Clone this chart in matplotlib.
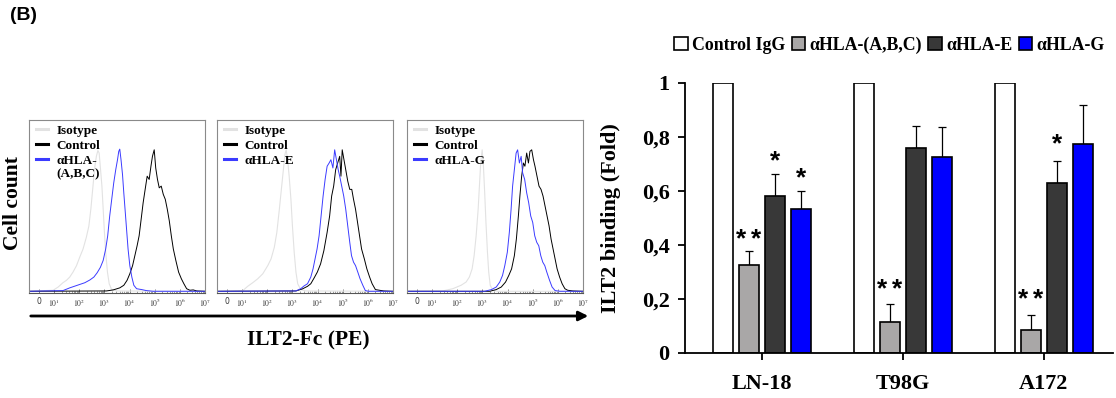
import matplotlib
matplotlib.use("Agg")
import matplotlib.pyplot as plt
from matplotlib.patches import FancyArrowPatch
from matplotlib.transforms import offset_copy
import numpy as np

plt.rcParams['mathtext.fontset'] = 'stix'
SERIF = 'Liberation Serif'

# ---------------- Flow cytometry histograms (x in decade units, y in % of frame) ----------------
# Panel 1: alpha HLA-(A,B,C)
p1_iso_x = [0, 0.96, 1.16, 1.35, 1.49, 1.62, 1.75, 1.89, 2.02, 2.15, 2.28, 2.38, 2.46, 2.52, 2.58, 2.63, 2.68, 2.74, 2.79, 2.84, 2.90, 2.95, 3.0, 3.05, 3.12, 3.19, 3.28, 3.48, 7]
p1_iso_y = [0, 0.6, 2.5, 5, 6.4, 8.3, 11.2, 15, 20, 24.7, 31.5, 38, 48, 57.5, 67, 74, 78.8, 82.2, 80.7, 72, 61.4, 48, 34.4, 22.8, 11.2, 4.4, 1.2, 0.2, 0]
p1_ctl_x = [0, 3.08, 3.35, 3.61, 3.77, 3.9, 4.01, 4.12, 4.21, 4.3, 4.38, 4.46, 4.54, 4.62, 4.7, 4.78, 4.85, 4.91, 4.98, 5.04, 5.11, 5.18, 5.26, 5.34, 5.42, 5.5, 5.58, 5.66, 5.74, 5.84, 5.95, 6.06, 6.16, 6.27, 6.4, 6.53, 6.67, 7]
p1_ctl_y = [0, 0.2, 0.8, 2, 3.5, 6.4, 10.2, 15, 20.8, 26.6, 32.4, 42, 51.7, 59.5, 67.2, 65.3, 73, 78.8, 82.6, 72, 65.3, 60.4, 61.4, 56.6, 53.7, 47.9, 41.1, 32.4, 24.7, 18, 11.2, 7.3, 4.4, 1.5, 0.6, 0.8, 0.2, 0]
p1_ab_x = [0, 1.35, 1.62, 1.82, 2.02, 2.22, 2.42, 2.58, 2.71, 2.84, 2.95, 3.05, 3.13, 3.21, 3.29, 3.37, 3.45, 3.52, 3.57, 3.61, 3.66, 3.72, 3.77, 3.82, 3.88, 3.94, 4.01, 4.09, 4.17, 4.28, 4.48, 4.67, 4.94, 7]
p1_ab_y = [0, 0.4, 2, 3, 4, 5, 6.6, 8.3, 10.8, 14, 18, 24.7, 32.4, 44, 53.7, 63.3, 71, 76.8, 81.7, 83, 76.8, 68, 57.5, 47.9, 36.3, 24.7, 15, 8.3, 3.5, 1.5, 1, 0.4, 0, 0]

# Panel 2: alpha HLA-E
p2_iso_x = [0, 1.03, 1.22, 1.42, 1.62, 1.82, 2.02, 2.15, 2.28, 2.38, 2.48, 2.56, 2.64, 2.7, 2.75, 2.81, 2.87, 2.94, 3.0, 3.07, 3.14, 3.21, 3.33, 3.53, 7]
p2_iso_y = [0, 0.4, 2.9, 5, 7.3, 10.2, 15, 18.9, 25.7, 34.4, 47.9, 59.5, 71, 79.7, 82.6, 76.8, 67.2, 53.7, 38.2, 22.8, 11.2, 4.4, 1, 0.2, 0]
p2_ctl_x = [0, 3.14, 3.4, 3.6, 3.73, 3.86, 3.99, 4.12, 4.25, 4.38, 4.48, 4.56, 4.64, 4.72, 4.8, 4.88, 4.93, 4.98, 5.05, 5.12, 5.2, 5.28, 5.36, 5.43, 5.51, 5.59, 5.67, 5.75, 5.86, 5.96, 6.07, 6.17, 6.3, 6.46, 6.63, 7]
p2_ctl_y = [0, 0.2, 1.4, 2.9, 4.4, 7.7, 11.2, 16, 23.7, 34.4, 44, 55.6, 61.4, 71, 74.9, 78.8, 67.2, 82.6, 76.8, 71, 64.3, 59.5, 59.5, 53.7, 47.9, 40.2, 32.4, 24.7, 18.9, 13.1, 8.3, 4.4, 1, 0.6, 0.2, 0]
p2_ab_x = [0, 3.14, 3.33, 3.46, 3.6, 3.73, 3.82, 3.9, 3.98, 4.06, 4.14, 4.22, 4.3, 4.38, 4.46, 4.53, 4.61, 4.68, 4.75, 4.82, 4.88, 4.96, 5.04, 5.12, 5.2, 5.28, 5.35, 5.43, 5.51, 5.6, 5.69, 5.8, 5.9, 6.03, 7]
p2_ab_y = [0, 0.2, 1.5, 3.1, 4.4, 8.3, 13.1, 18.9, 24.7, 32.4, 44, 55.6, 65.3, 73, 74.9, 76.8, 72, 82.6, 76.8, 71, 67.2, 61.4, 55.6, 47.9, 38.2, 28.6, 20.8, 17, 15, 11.2, 7.3, 3.5, 0.4, 0, 0]

# Panel 3: alpha HLA-G
p3_iso_x = [0, 1.42, 1.82, 2.15, 2.35, 2.48, 2.59, 2.67, 2.75, 2.83, 2.88, 2.93, 2.99, 3.04, 3.09, 3.14, 3.2, 3.25, 3.31, 3.41, 3.61, 7]
p3_iso_y = [0, 0.2, 1.5, 3.5, 5.4, 8.3, 13.1, 20.8, 32.4, 47.9, 61.4, 74.9, 82.6, 73, 57.5, 40.2, 22.8, 11.2, 3.5, 0.6, 0, 0]
p3_ctl_x = [0, 3.29, 3.55, 3.75, 3.92, 4.05, 4.16, 4.27, 4.35, 4.43, 4.49, 4.56, 4.63, 4.69, 4.76, 4.83, 4.89, 4.96, 5.03, 5.09, 5.17, 5.25, 5.33, 5.41, 5.49, 5.57, 5.65, 5.73, 5.81, 5.89, 5.97, 6.07, 6.17, 6.28, 6.39, 6.59, 7]
p3_ctl_y = [0, 0, 1, 2.5, 5.4, 9.3, 13.1, 20.8, 30.5, 44, 55.6, 67.2, 74.9, 73, 80.7, 74.9, 81.7, 82.6, 76.8, 73, 67.2, 61.4, 59.5, 55.6, 49.8, 44, 38.2, 30.5, 24.7, 18.9, 13.1, 8.3, 4.4, 1.5, 0.6, 0.2, 0]
p3_ab_x = [0, 3.09, 3.36, 3.55, 3.69, 3.8, 3.89, 3.99, 4.07, 4.14, 4.2, 4.27, 4.34, 4.4, 4.47, 4.54, 4.6, 4.68, 4.76, 4.84, 4.92, 5.0, 5.08, 5.16, 5.24, 5.32, 5.4, 5.48, 5.56, 5.67, 5.77, 5.89, 6.09, 7]
p3_ab_y = [0, 0, 1, 2.5, 5.4, 9.3, 15, 22.8, 34.4, 47.9, 61.4, 71, 80.7, 82.6, 74.9, 78.8, 69.1, 65.3, 57.5, 51.7, 44, 40.2, 32.4, 28.6, 26.6, 20.8, 17, 15, 11.2, 6.4, 2.5, 0.4, 0, 0]

hist_labels = ["Isotype", "Control"]
ab_labels = ["\u03b1HLA-", "\u03b1HLA-E", "\u03b1HLA-G"]
hist_tick_pos = [0.4, 1, 2, 3, 4, 5, 6, 7]
hist_tick_lab = ["0"] + ["$10^{%d}$" % k for k in range(1, 8)]

# ---------------- Bar chart ----------------
cell_lines = ["LN-18", "T98G", "A172"]
series_names = ["Control IgG", "\u03b1HLA-(A,B,C)", "\u03b1HLA-E", "\u03b1HLA-G"]
ctrl_vals = [1.0, 1.0, 1.0]
abc_vals = [0.325, 0.115, 0.086]
e_vals = [0.58, 0.758, 0.628]
g_vals = [0.535, 0.726, 0.774]
ctrl_err = [0, 0, 0]
abc_err = [0.052, 0.066, 0.054]
e_err = [0.084, 0.082, 0.083]
g_err = [0.066, 0.112, 0.143]
# (number of asterisks, series index, cell line index, height)
stars = [(2, 1, 0, 0.42), (1, 2, 0, 0.71), (1, 3, 0, 0.648),
         (2, 1, 1, 0.235), (2, 1, 2, 0.198), (1, 2, 2, 0.772)]
y_ticks = [0, 0.2, 0.4, 0.6, 0.8, 1.0]
y_tick_labels = ["0", "0,2", "0,4", "0,6", "0,8", "1"]

bar_colors = ["white", "#a9a7a7", "#383838", "#0000ff"]

W, H = 1116, 398
fig = plt.figure(figsize=(W / 100, H / 100), dpi=100)

def fx(px):
    return px / W

def fy(py):
    return 1 - py / H

panels = [
    (29, p1_iso_x, p1_iso_y, p1_ctl_x, p1_ctl_y, p1_ab_x, p1_ab_y, ab_labels[0]),
    (217, p2_iso_x, p2_iso_y, p2_ctl_x, p2_ctl_y, p2_ab_x, p2_ab_y, ab_labels[1]),
    (407, p3_iso_x, p3_iso_y, p3_ctl_x, p3_ctl_y, p3_ab_x, p3_ab_y, ab_labels[2]),
]
minor_pos = [k + np.log10(m) for k in range(1, 7) for m in range(2, 10)]
hist_axes = []
for i, (left, ix, iy, cx, cy, ax_, ay, lab) in enumerate(panels):
    ax = fig.add_axes([fx(left), fy(293), 176 / W, 173 / H])
    hist_axes.append(ax)
    l1, = ax.plot(ix, iy, color="#e2e2e2", lw=0.8, label=hist_labels[0])
    l2, = ax.plot(cx, cy, color="black", lw=0.7, label=hist_labels[1])
    l3, = ax.plot(ax_, ay, color="#3b3bff", lw=0.7, label=lab)
    ax.set_xlim(0, 7)
    ax.set_ylim(-1, 100)
    ax.set_yticks([])
    ax.set_xticks(hist_tick_pos)
    ax.set_xticklabels(hist_tick_lab)
    ax.set_xticks(minor_pos, minor=True)
    ax.tick_params(axis='x', which='major', direction='in', length=3, width=0.5,
                   color='#555555', labelsize=5.5, pad=3, labelcolor='#333333')
    ax.tick_params(axis='x', which='minor', direction='in', length=1.8, width=0.4, color='#555555')
    for s in ax.spines.values():
        s.set_color('#8a8a8a')
        s.set_linewidth(0.8)
    ax.spines['bottom'].set_color('#555555')
    leg = ax.legend(handles=[l1, l2, l3], loc='upper left', bbox_to_anchor=(0.0, 1.01),
                    frameon=False, handlelength=0.95, handletextpad=0.65, labelspacing=0.2,
                    borderaxespad=0.2, borderpad=0.3,
                    prop=dict(family=SERIF, weight='bold', size=9.5))
    for h in leg.legend_handles:
        h.set_linewidth(2.2)

fig.canvas.draw()
# second line of the first panel's legend label
t = hist_axes[0].get_legend().get_texts()[2]
bb = t.get_window_extent()
fig.text(bb.x0 / W, (bb.y0 - 13) / H, "(A,B,C)", family=SERIF, weight='bold', size=9.5,
         ha='left', va='bottom')

fig.text(fx(13), fy(203), "Cell count", rotation=90, ha='center', va='center',
         family=SERIF, weight='bold', size=15.5)
fig.add_artist(FancyArrowPatch((fx(28), fy(316)), (fx(591), fy(316)), transform=fig.transFigure,
                               arrowstyle='-|>', mutation_scale=14, lw=2, color='black'))
fig.text(fx(308), fy(340), "ILT2-Fc (PE)", ha='center', va='center',
         family=SERIF, weight='bold', size=15.5)
fig.text(fx(10), fy(16), "(B)", ha='left', va='center', family='Liberation Sans',
         weight='bold', size=14)

# ---------------- bar chart axes ----------------
bx = fig.add_axes([fx(685), fy(353), 428 / W, 270 / H])
xc = np.arange(len(cell_lines))
pitch, bw = 0.183, 0.142
vals = [ctrl_vals, abc_vals, e_vals, g_vals]
errs = [ctrl_err, abc_err, e_err, g_err]
handles = []
for j in range(4):
    pos = xc + (j - 1.5) * pitch
    b = bx.bar(pos, vals[j], bw, color=bar_colors[j], edgecolor='black', lw=1.2,
               label=series_names[j], zorder=2)
    handles.append(b)
    if j > 0:
        bx.errorbar(pos, vals[j], yerr=[[0] * len(pos), errs[j]], fmt='none',
                    ecolor='black', elinewidth=0.9, capsize=3, capthick=0.9, zorder=1)
for n, j, c, yv in stars:
    xs = xc[c] + (j - 1.5) * pitch
    offs = [0] if n == 1 else [-7.5, 7.5]
    for o in offs:
        tr = offset_copy(bx.transData, fig=fig, x=o * 0.72, y=0, units='points')
        bx.text(xs, yv, "*", ha='center', va='center', transform=tr,
                family='Liberation Sans', weight='bold', size=19)
bx.set_xlim(-0.546, 2.49)
bx.set_ylim(0, 1)
bx.set_yticks(y_ticks)
bx.set_yticklabels(y_tick_labels)
bx.set_xticks(xc)
bx.set_xticklabels(cell_lines)
for lab in bx.get_xticklabels() + bx.get_yticklabels():
    lab.set_family(SERIF)
    lab.set_weight('bold')
    lab.set_fontsize(16)
bx.tick_params(axis='y', direction='out', length=5, width=1.3, pad=6)
bx.tick_params(axis='x', direction='out', length=5, width=1.3, pad=10)
bx.spines['top'].set_visible(False)
bx.spines['right'].set_visible(False)
bx.spines['left'].set_linewidth(1.3)
bx.spines['bottom'].set_linewidth(1.3)
bx.set_ylabel("ILT2 binding (Fold)", family=SERIF, weight='bold', size=16, labelpad=15)
bx.legend(handles=handles, loc='center right', bbox_to_anchor=(fx(1114), fy(45)),
          bbox_transform=fig.transFigure, ncol=4, frameon=False, handlelength=0.75,
          handleheight=0.75, handletextpad=0.25, columnspacing=0.35, borderpad=0,
          prop=dict(family=SERIF, weight='bold', size=12.9))

fig.savefig("out.png", dpi=100)
